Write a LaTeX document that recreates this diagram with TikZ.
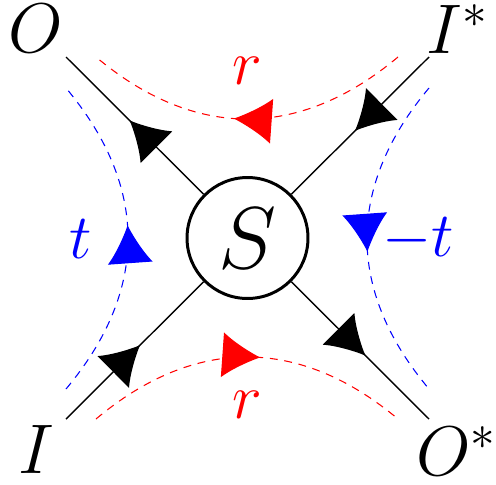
\RequirePackage{fix-cm}
\documentclass[tikz,border=0pt]{standalone}
\usetikzlibrary{arrows.meta,decorations.markings}

\begin{document}
\begin{tikzpicture}[x=0.02cm, y=-0.02cm,
  wire/.style={line width=0.8pt},
  scat/.style={circle, draw, line width=1.7pt, minimum size=2.42cm, inner sep=0pt,
               font=\fontsize{50}{60}\selectfont},
  port/.style={anchor=base, font=\fontsize{40}{48}\selectfont},
  coef/.style={font=\fontsize{36}{43}\selectfont},
  flow/.style={dash pattern=on 4.5pt off 3.8pt, line width=0.6pt},
  midarr/.style={postaction={decorate},
    decoration={markings, mark=at position 0.54 with {\arrow{Latex[length=0.76cm,width=0.9cm]}}}}]
  \useasboundingbox (0,0) rectangle (496,484);

  \node[scat] (S) at (247.5,238) {$S$};
  \node[port] (O) at (36,52) {$O$};
  \node[port] (Is) at (457,53) {$I^*$};
  \node[port] (I) at (36,473) {$I$};
  \node[port] (Os) at (456,475) {$O^*$};
  \coordinate (eO) at (66,57);
  \coordinate (eIs) at (429,57);
  \coordinate (eI) at (66,419);
  \coordinate (eOs) at (429,419);

  \draw[wire, midarr] (S) -- (eO);
  \draw[wire, midarr] (eIs) -- (S);
  \draw[wire, midarr] (eI) -- (S);
  \draw[wire, midarr] (S) -- (eOs);

  % reflection and transmission paths
  \coordinate (rt1) at (398,57);
  \coordinate (rt2) at (96,57);
  \coordinate (rb1) at (96,419);
  \coordinate (rb2) at (398,419);
  \coordinate (tl1) at (66,389);
  \coordinate (tl2) at (66,88);
  \coordinate (tr1) at (429,88);
  \coordinate (tr2) at (429,389);
  \draw[red, flow, midarr] (rt1) .. controls +(-98.6,82.7) and +(98.6,82.7) .. (rt2);
  \draw[red, flow, midarr] (rb1) .. controls +(98.6,-82.7) and +(-98.6,-82.7) .. (rb2);
  \draw[blue, flow, midarr] (tl1) .. controls +(82.7,-98.6) and +(82.7,98.6) .. (tl2);
  \draw[blue, flow, midarr] (tr1) .. controls +(-82.7,98.6) and +(-82.7,-98.6) .. (tr2);

  \node[coef, red] (rtop) at (247,71) {$r$};
  \node[coef, red] (rbot) at (247,405) {$r$};
  \node[coef, blue] (tl) at (81,239) {$t$};
  \node[coef, blue] (tr) at (418,240) {$-t$};
\end{tikzpicture}
\end{document}
